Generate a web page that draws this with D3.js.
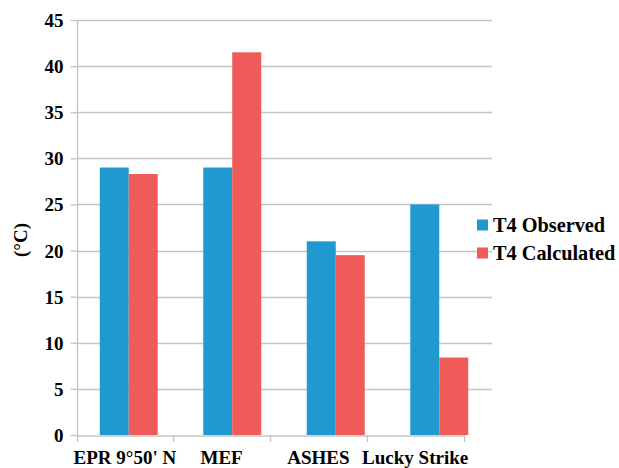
<!DOCTYPE html>
<html><head><meta charset="utf-8">
<script src="https://cdn.jsdelivr.net/npm/d3@7"></script>
<style>body{margin:0;background:#fff}svg{display:block}</style>
</head><body><svg id="c" width="619" height="468"></svg>
<script>
const categories = ["EPR 9°50' N", "MEF", "ASHES", "Lucky Strike"];
const observed = [29, 29, 21, 25];
const calculated = [28.3, 41.5, 19.5, 8.4];
const seriesNames = ["T4 Observed", "T4 Calculated"];
const colors = ["#1f99cf", "#ef5b59"];
const yTicks = [0, 5, 10, 15, 20, 25, 30, 35, 40, 45];

const svg = d3.select("#c");
const y = d3.scaleLinear().domain([0, 45]).range([435, 20]);
const xAxisScale = d3.scaleBand().domain(categories).range([76.5, 463.5]);
const xBars = d3.scaleBand().domain(categories).range([77, 491]).paddingInner(0.44).paddingOuter(0.22);
const xSub = d3.scaleBand().domain([0, 1]).range([0, xBars.bandwidth()]);

// gridlines
svg.append("g").selectAll("line").data(yTicks.filter(d => d > 0)).join("line")
  .attr("x1", 77).attr("x2", 492).attr("y1", d => Math.round(y(d)) + 0.5).attr("y2", d => Math.round(y(d)) + 0.5)
  .attr("stroke", "#c4c4c4").attr("stroke-width", 1.3);

// bars
const rows = categories.map((c, i) => [observed[i], calculated[i]]);
const g = svg.append("g");
categories.forEach((c, i) => {
  rows[i].forEach((v, s) => {
    g.append("rect")
      .attr("x", xBars(c) + xSub(s)).attr("width", xSub.bandwidth())
      .attr("y", y(v)).attr("height", y(0) - y(v))
      .attr("fill", colors[s]);
  });
});

// y axis
const yAxis = svg.append("g").attr("transform", "translate(77.5,0)")
  .call(d3.axisLeft(y).tickValues(yTicks).tickSize(7).tickPadding(7));
yAxis.select(".domain").attr("stroke", "#c4c4c4").attr("stroke-width", 1.3).attr("d", "M0,20V435.5");
yAxis.selectAll(".tick line").attr("stroke", "#c4c4c4").attr("stroke-width", 1.3);
yAxis.selectAll(".tick text").attr("dy", "0.34em");

// x axis
const xAxis = svg.append("g").attr("transform", "translate(0,435.5)")
  .call(d3.axisBottom(xAxisScale).tickSize(0).tickPadding(22));
xAxis.select(".domain").attr("stroke", "#c4c4c4").attr("stroke-width", 1.3);
xAxis.selectAll(".tick text").attr("dy", "0.32em");
const edges = [xAxisScale.range()[0]].concat(categories.map(c => xAxisScale(c) + xAxisScale.bandwidth()));
svg.append("g").selectAll("line").data(edges).join("line")
  .attr("x1", d => Math.round(d) + 0.5).attr("x2", d => Math.round(d) + 0.5)
  .attr("y1", 435).attr("y2", 442).attr("stroke", "#c4c4c4").attr("stroke-width", 1.3);

// y title
svg.append("text").attr("transform", "translate(27,240) rotate(-90)")
  .attr("text-anchor", "middle").text("(°C)");

// legend
const lg = svg.append("g");
seriesNames.forEach((n, i) => {
  const yy = 225 + i * 28;
  lg.append("rect").attr("x", 477).attr("y", yy - 5.5).attr("width", 11).attr("height", 11).attr("fill", colors[i]);
  lg.append("text").attr("class", "leg").attr("x", 493).attr("y", yy).attr("dy", "0.35em").text(n);
});

svg.selectAll("g").attr("font-family", null).attr("font-size", null);
svg.selectAll("text")
  .style("font-family", "'Liberation Serif'").style("font-weight", "bold").style("font-size", "19px").attr("fill", "#000");
svg.selectAll("text.leg").style("font-size", "20.3px");
</script></body></html>
